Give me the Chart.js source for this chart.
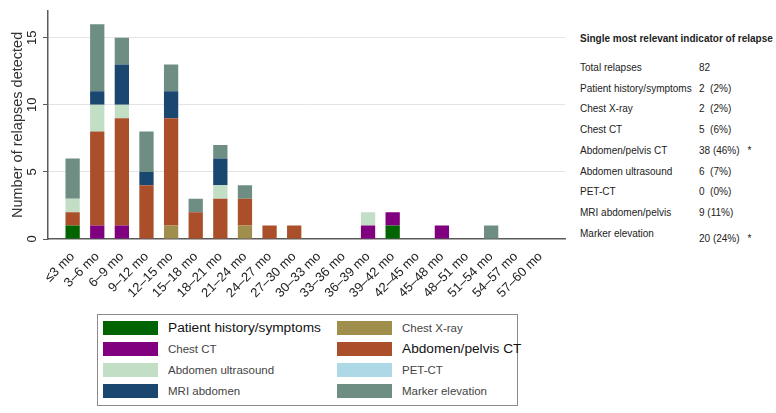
<!DOCTYPE html>
<html>
<head>
<meta charset="utf-8">
<script src="https://cdn.jsdelivr.net/npm/chart.js@4.4.0/dist/chart.umd.min.js"></script>
<style>
    body { margin: 0; background: #fff; font-family: "Liberation Sans", Arial, sans-serif; }
    #wrap { position: relative; width: 776px; height: 413px; overflow: hidden; }
    #relapseChart { position: absolute; left: 0; top: 0; }
    #panel { position: absolute; left: 580px; top: 0; width: 196px; font-size: 10px; color: #222; }
    #panel .title { position: absolute; top: 33px; left: 0; font-weight: bold; white-space: nowrap; line-height: 12px; }
    #panel .row { position: absolute; left: 0; height: 20px; line-height: 20px; white-space: nowrap; }
    #panel .val { position: absolute; left: 119px; }
    #panel .star { margin-left: 8px; }
    #legendBox { position: absolute; left: 97px; top: 314px; width: 419px; height: 90px; border: 1px solid #8a8a8a; }
    .swatch { position: absolute; width: 55px; height: 14px; }
    .ltext { position: absolute; white-space: nowrap; line-height: 14px; font-size: 11.5px; color: #444; }
    .ltext.big { font-size: 13.7px; color: #111; }
</style>
</head>
<body>
<div id="wrap">
    <canvas id="relapseChart" width="570" height="310"></canvas>
    <div id="panel"></div>
    <div id="legendBox"></div>
</div>
<script>
// Time since treatment, 3-month bins
const categories = ['≤3 mo', '3–6 mo', '6–9 mo', '9–12 mo', '12–15 mo', '15–18 mo', '18–21 mo',
    '21–24 mo', '24–27 mo', '27–30 mo', '30–33 mo', '33–36 mo', '36–39 mo', '39–42 mo',
    '42–45 mo', '45–48 mo', '48–51 mo', '51–54 mo', '54–57 mo', '57–60 mo'];

// Relapses per bin, by indicator (stacked bottom to top)
const patientHistory  = [1, 0, 0, 0, 0, 0, 0, 0, 0, 0, 0, 0, 0, 1, 0, 0, 0, 0, 0, 0];
const chestXray       = [0, 0, 0, 0, 1, 0, 0, 1, 0, 0, 0, 0, 0, 0, 0, 0, 0, 0, 0, 0];
const chestCT         = [0, 1, 1, 0, 0, 0, 0, 0, 0, 0, 0, 0, 1, 1, 0, 1, 0, 0, 0, 0];
const abdomenCT       = [1, 7, 8, 4, 8, 2, 3, 2, 1, 1, 0, 0, 0, 0, 0, 0, 0, 0, 0, 0];
const ultrasound      = [1, 2, 1, 0, 0, 0, 1, 0, 0, 0, 0, 0, 1, 0, 0, 0, 0, 0, 0, 0];
const petCT           = [0, 0, 0, 0, 0, 0, 0, 0, 0, 0, 0, 0, 0, 0, 0, 0, 0, 0, 0, 0];
const mriAbdomen      = [0, 1, 3, 1, 2, 0, 2, 0, 0, 0, 0, 0, 0, 0, 0, 0, 0, 0, 0, 0];
const markerElevation = [3, 5, 2, 3, 2, 1, 1, 1, 0, 0, 0, 0, 0, 0, 0, 0, 0, 1, 0, 0];

const yTicks = [0, 5, 10, 15];

// Summary table on the right
const panelTitle = 'Single most relevant indicator of relapse';
const panelLabels = ['Total relapses', 'Patient history/symptoms', 'Chest X-ray', 'Chest CT',
    'Abdomen/pelvis CT', 'Abdomen ultrasound', 'PET-CT', 'MRI abdomen/pelvis', 'Marker elevation'];
const panelValues = ['82', '2  (2%)', '2  (2%)', '5  (6%)', '38 (46%)', '6  (7%)', '0  (0%)', '9 (11%)', '20 (24%)'];
const panelStars  = [false, false, false, false, true, false, false, false, true];

const series = [
    { label: 'Patient history/symptoms', data: patientHistory,  color: '#006400' },
    { label: 'Chest X-ray',              data: chestXray,       color: '#a08f4c' },
    { label: 'Chest CT',                 data: chestCT,         color: '#800080' },
    { label: 'Abdomen/pelvis CT',        data: abdomenCT,       color: '#aa4f2a' },
    { label: 'Abdomen ultrasound',       data: ultrasound,      color: '#c2dfc6' },
    { label: 'PET-CT',                   data: petCT,           color: '#add8e6' },
    { label: 'MRI abdomen',              data: mriAbdomen,      color: '#1a476f' },
    { label: 'Marker elevation',         data: markerElevation, color: '#6e8e84' }
];

document.addEventListener('DOMContentLoaded', function() {
    buildChart();
    buildPanel();
    buildLegend();
});

function buildChart() {
    const ctx = document.getElementById('relapseChart');

    new Chart(ctx, {
        type: 'bar',
        data: {
            datasets: series.map(s => ({
                label: s.label,
                data: s.data.map((v, i) => ({ x: i, y: v })),
                backgroundColor: s.color,
                borderWidth: 0,
                categoryPercentage: 1,
                barPercentage: 0.58
            }))
        },
        options: {
            responsive: false,
            animation: false,
            layout: { padding: { top: 10, right: 5, left: 0, bottom: 0 } },
            plugins: {
                legend: { display: false },
                tooltip: { enabled: false }
            },
            scales: {
                x: {
                    type: 'linear',
                    stacked: true,
                    offset: false,
                    min: -1,
                    max: 20,
                    grid: { display: false },
                    border: { color: '#5a5a5a', width: 1.5 },
                    afterBuildTicks: scale => {
                        scale.ticks = categories.map((c, i) => ({ value: i }));
                    },
                    afterFit: scale => { scale.height = 71; },
                    ticks: {
                        autoSkip: false,
                        minRotation: 45,
                        maxRotation: 45,
                        padding: 2,
                        color: '#222',
                        font: { family: 'Liberation Sans', size: 13 },
                        callback: v => categories[v]
                    }
                },
                y: {
                    stacked: true,
                    min: 0,
                    max: 17,
                    afterBuildTicks: scale => {
                        scale.ticks = yTicks.map(v => ({ value: v }));
                    },
                    afterFit: scale => { scale.width = 48; },
                    grid: {
                        color: c => c.tick && c.tick.value === 0 ? 'rgba(0,0,0,0)' : '#e4e4e4',
                        tickColor: '#5a5a5a',
                        tickLength: 5,
                        lineWidth: 1
                    },
                    border: { color: '#5a5a5a', width: 1.5 },
                    ticks: {
                        minRotation: 90,
                        maxRotation: 90,
                        crossAlign: 'center',
                        padding: 3,
                        color: '#222',
                        font: { family: 'Liberation Sans', size: 13 }
                    },
                    title: {
                        display: true,
                        text: 'Number of relapses detected',
                        color: '#333',
                        padding: { top: 9, bottom: 0 },
                        font: { family: 'Liberation Sans', size: 14.5 }
                    }
                }
            }
        }
    });
}

function buildPanel() {
    const panel = document.getElementById('panel');
    let html = `<div class="title">${panelTitle}</div>`;
    panelLabels.forEach((label, i) => {
        const top = 58 + i * 20.7;
        const shift = i === panelLabels.length - 1 ? 5 : 0;
        html += `<div class="row" style="top:${top}px">${label}` +
            `<span class="val" style="top:${shift}px">${panelValues[i].replace(/ /g, '&nbsp;')}` +
            `${panelStars[i] ? '<span class="star">*</span>' : ''}</span></div>`;
    });
    panel.innerHTML = html;
}

function buildLegend() {
    const box = document.getElementById('legendBox');
    const bigItems = [0, 3];
    let html = '';
    series.forEach((s, i) => {
        const row = Math.floor(i / 2);
        const col = i % 2;
        const top = 6 + row * 21;
        const swLeft = col === 0 ? 5 : 239;
        const txLeft = col === 0 ? 70 : 304;
        html += `<div class="swatch" style="left:${swLeft}px;top:${top}px;background:${s.color}"></div>`;
        html += `<div class="ltext${bigItems.includes(i) ? ' big' : ''}" style="left:${txLeft}px;top:${top}px">${s.label}</div>`;
    });
    box.innerHTML = html;
}
</script>
</body>
</html>
